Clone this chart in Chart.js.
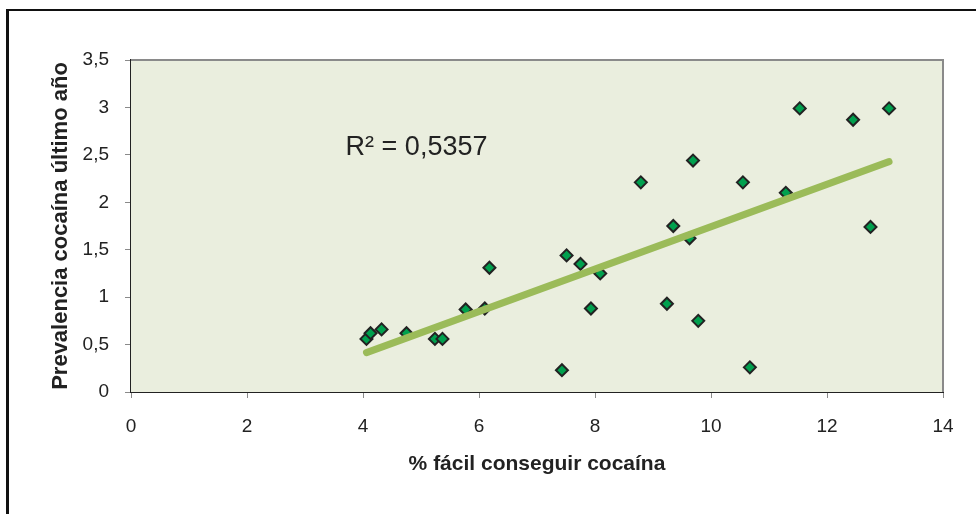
<!DOCTYPE html>
<html>
<head>
<meta charset="utf-8">
<script src="https://cdn.jsdelivr.net/npm/chart.js@4"></script>
<style>
  html, body { margin: 0; padding: 0; background: #fff; overflow: hidden; }
  #wrap { position: relative; width: 976px; height: 514px; }
  #frame { position: absolute; left: 6px; top: 9px; width: 1000px; height: 600px;
           border-left: 3px solid #111; border-top: 2px solid #111; pointer-events: none; }
</style>
</head>
<body>
<div id="wrap">
  <canvas id="chart" width="976" height="514"></canvas>
  <div id="frame"></div>
</div>
<script>
// % fácil conseguir cocaína vs prevalencia último año
const easyAccess = [4.06, 4.13, 4.32, 4.75, 5.24, 5.37, 5.77, 6.10, 6.18, 7.43, 7.51, 7.75, 7.93, 8.09,
  8.79, 9.24, 9.35, 9.63, 9.69, 9.78, 10.55, 10.67, 11.29, 11.53, 12.45, 12.75, 13.07];
const prevalence = [0.56, 0.62, 0.66, 0.62, 0.56, 0.56, 0.87, 0.88, 1.31, 0.23, 1.44, 1.35, 0.88, 1.25,
  2.21, 0.93, 1.75, 1.62, 2.44, 0.75, 2.21, 0.26, 2.10, 2.99, 2.87, 1.74, 2.99];

const yTickLabels = ['0', '0,5', '1', '1,5', '2', '2,5', '3', '3,5'];
const xTickLabels = ['0', '2', '4', '6', '8', '10', '12', '14'];
const r2Label = 'R² = 0,5357';
const xTitle = '% fácil conseguir cocaína';
const yTitle = 'Prevalencia cocaína último año';

const points = easyAccess.map((x, i) => ({ x: x, y: prevalence[i] }));

// least squares trend line, like the spreadsheet one
function trend(xs, ys) {
  const n = xs.length;
  const mx = xs.reduce((a, b) => a + b, 0) / n;
  const my = ys.reduce((a, b) => a + b, 0) / n;
  let sxy = 0, sxx = 0;
  for (let i = 0; i < n; i++) {
    sxy += (xs[i] - mx) * (ys[i] - my);
    sxx += (xs[i] - mx) * (xs[i] - mx);
  }
  const slope = sxy / sxx;
  const x0 = Math.min(...xs), x1 = Math.max(...xs);
  return [{ x: x0, y: my + slope * (x0 - mx) }, { x: x1, y: my + slope * (x1 - mx) }];
}

Chart.defaults.font.family = "'Liberation Sans', Arial, sans-serif";
Chart.defaults.color = '#222';

const plotBox = {
  id: 'plotBox',
  beforeDatasetsDraw(chart) {
    const { ctx, chartArea: a } = chart;
    ctx.save();
    ctx.fillStyle = '#EAEEDE';
    ctx.fillRect(a.left, a.top, a.right - a.left, a.bottom - a.top);
    ctx.strokeStyle = '#8a8a8a';
    ctx.lineWidth = 2;
    ctx.beginPath();
    ctx.moveTo(a.left, a.top);
    ctx.lineTo(a.right, a.top);
    ctx.lineTo(a.right, a.bottom);
    ctx.stroke();
    ctx.restore();
  },
  afterDraw(chart) {
    const { ctx, scales } = chart;
    ctx.save();
    ctx.font = "27px 'Liberation Sans', Arial, sans-serif";
    ctx.fillStyle = '#222';
    ctx.textBaseline = 'middle';
    ctx.fillText(r2Label, scales.x.getPixelForValue(3.7), scales.y.getPixelForValue(2.58));
    ctx.restore();
  }
};

new Chart(document.getElementById('chart'), {
  type: 'scatter',
  data: {
    datasets: [{
      type: 'line',
      data: trend(easyAccess, prevalence),
      borderColor: '#9BBB59',
      borderWidth: 7,
      borderCapStyle: 'round',
      pointRadius: 0,
      order: 0
    }, {
      data: points,
      pointStyle: 'rectRot',
      pointRadius: 6,
      pointBackgroundColor: '#00A04E',
      pointBorderColor: '#222',
      pointBorderWidth: 2,
      order: 1
    }]
  },
  options: {
    responsive: false,
    animation: false,
    devicePixelRatio: 1,
    layout: { padding: { left: 40, top: 60, right: 33, bottom: 0 } },
    plugins: { legend: { display: false }, tooltip: { enabled: false } },
    scales: {
      x: {
        type: 'linear', min: 0, max: 14,
        afterFit(scale) { scale.height = 122; },
        ticks: { stepSize: 2, padding: 17, font: { size: 19 },
                 callback: (v, i) => xTickLabels[i] },
        grid: { drawOnChartArea: false, tickLength: 6, color: '#8a8a8a' },
        border: { color: '#222', width: 2 },
        title: { display: true, text: xTitle, font: { size: 21, weight: 'bold' },
                 padding: { top: 0, bottom: 37 } }
      },
      y: {
        type: 'linear', min: 0, max: 3.5,
        afterFit(scale) { scale.width = 91; },
        ticks: { stepSize: 0.5, padding: 16, font: { size: 19 },
                 callback: (v, i) => yTickLabels[i] },
        grid: { drawOnChartArea: false, tickLength: 6, color: '#8a8a8a' },
        border: { color: '#222', width: 2 },
        title: { display: true, text: yTitle, font: { size: 22, weight: 'bold' },
                 padding: { top: 8, bottom: 0 } }
      }
    }
  },
  plugins: [plotBox]
});
</script>
</body>
</html>
